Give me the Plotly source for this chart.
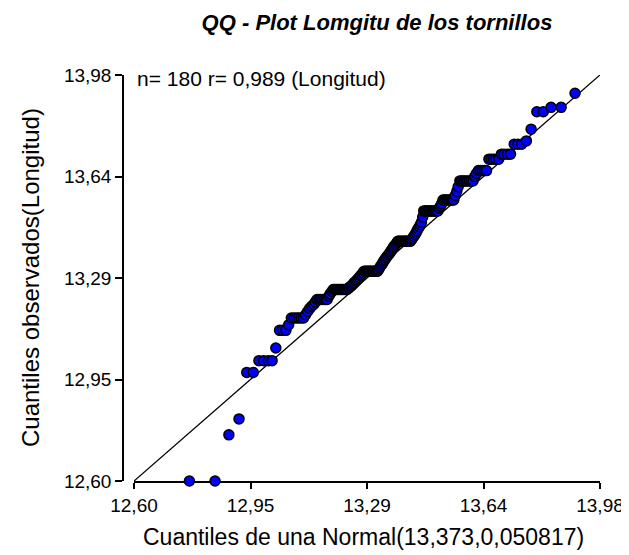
import plotly.graph_objects as go

# Theoretical normal quantiles (Normal(13,373 ; 0,050817))
normal_quantiles = [
    12.764, 12.840, 12.881, 12.911, 12.934, 12.953, 12.970, 12.984, 12.998, 13.009,
    13.020, 13.031, 13.040, 13.050, 13.058, 13.066, 13.074, 13.081, 13.088, 13.095,
    13.102, 13.108, 13.114, 13.120, 13.126, 13.132, 13.137, 13.142, 13.148, 13.153,
    13.158, 13.163, 13.168, 13.172, 13.177, 13.181, 13.186, 13.190, 13.195, 13.199,
    13.203, 13.207, 13.211, 13.215, 13.219, 13.223, 13.227, 13.231, 13.235, 13.238,
    13.242, 13.246, 13.250, 13.253, 13.257, 13.260, 13.264, 13.267, 13.271, 13.274,
    13.278, 13.281, 13.285, 13.288, 13.291, 13.295, 13.298, 13.301, 13.305, 13.308,
    13.311, 13.314, 13.318, 13.321, 13.324, 13.327, 13.330, 13.334, 13.337, 13.340,
    13.343, 13.346, 13.349, 13.353, 13.356, 13.359, 13.362, 13.365, 13.368, 13.371,
    13.375, 13.378, 13.381, 13.384, 13.387, 13.390, 13.393, 13.397, 13.400, 13.403,
    13.406, 13.409, 13.412, 13.416, 13.419, 13.422, 13.425, 13.428, 13.432, 13.435,
    13.438, 13.441, 13.445, 13.448, 13.451, 13.455, 13.458, 13.461, 13.465, 13.468,
    13.472, 13.475, 13.479, 13.482, 13.486, 13.489, 13.493, 13.496, 13.500, 13.504,
    13.508, 13.511, 13.515, 13.519, 13.523, 13.527, 13.531, 13.535, 13.539, 13.543,
    13.547, 13.551, 13.556, 13.560, 13.565, 13.569, 13.574, 13.578, 13.583, 13.588,
    13.593, 13.598, 13.604, 13.609, 13.614, 13.620, 13.626, 13.632, 13.638, 13.644,
    13.651, 13.658, 13.665, 13.672, 13.680, 13.688, 13.696, 13.706, 13.715, 13.726,
    13.737, 13.748, 13.762, 13.776, 13.793, 13.812, 13.835, 13.865, 13.906, 13.982,
]

observed_quantiles = [
    12.600, 12.600, 12.757, 12.811, 12.969, 12.969, 13.009, 13.009, 13.009, 13.009,
    13.052, 13.112, 13.112, 13.112, 13.131, 13.154, 13.154, 13.154, 13.154, 13.154,
    13.154, 13.165, 13.176, 13.186, 13.194, 13.200, 13.208, 13.217, 13.217, 13.217,
    13.217, 13.217, 13.217, 13.217, 13.228, 13.236, 13.244, 13.251, 13.251, 13.251,
    13.251, 13.251, 13.251, 13.251, 13.251, 13.251, 13.251, 13.251, 13.255, 13.258,
    13.262, 13.266, 13.271, 13.275, 13.279, 13.283, 13.287, 13.292, 13.297, 13.302,
    13.307, 13.313, 13.313, 13.313, 13.313, 13.313, 13.313, 13.313, 13.313, 13.313,
    13.313, 13.313, 13.313, 13.313, 13.318, 13.324, 13.330, 13.336, 13.342, 13.348,
    13.353, 13.358, 13.363, 13.368, 13.373, 13.378, 13.383, 13.388, 13.394, 13.399,
    13.404, 13.409, 13.415, 13.415, 13.415, 13.415, 13.415, 13.415, 13.415, 13.415,
    13.415, 13.415, 13.415, 13.415, 13.415, 13.420, 13.425, 13.431, 13.437, 13.443,
    13.450, 13.457, 13.464, 13.471, 13.479, 13.497, 13.518, 13.518, 13.518, 13.518,
    13.518, 13.518, 13.518, 13.518, 13.518, 13.518, 13.518, 13.518, 13.518, 13.528,
    13.535, 13.542, 13.555, 13.555, 13.555, 13.555, 13.555, 13.555, 13.555, 13.555,
    13.555, 13.570, 13.585, 13.600, 13.620, 13.620, 13.620, 13.620, 13.620, 13.620,
    13.620, 13.620, 13.620, 13.635, 13.645, 13.655, 13.655, 13.655, 13.655, 13.655,
    13.694, 13.694, 13.694, 13.694, 13.694, 13.711, 13.711, 13.711, 13.711, 13.745,
    13.745, 13.745, 13.756, 13.796, 13.855, 13.855, 13.870, 13.870, 13.918, 13.957,
]

axis_limits = [12.60, 13.98]
tick_values = [12.60, 12.945, 13.29, 13.635, 13.98]
tick_labels = ["12,60", "12,95", "13,29", "13,64", "13,98"]

# The page body has an 8 px margin, so the figure is drawn from (8, 8).
OFF = 8
W, H = 629 - OFF, 555 - OFF
ml, mt = 123 - OFF, 75 - OFF
mr = W - (600 - OFF)
mb = H - (481 - OFF)
plot_w = W - ml - mr
plot_h = H - mt - mb
x_start = 11 / plot_w


def px_x(p):
    return (p - OFF - ml) / plot_w


def px_y(p):
    return 1 - (p - OFF - mt) / plot_h


font_family = "Arial, Liberation Sans, sans-serif"

fig = go.Figure()
fig.add_trace(go.Scatter(
    x=axis_limits, y=axis_limits, mode="lines",
    line=dict(color="black", width=1.3), hoverinfo="skip", showlegend=False,
))
fig.add_trace(go.Scatter(
    x=normal_quantiles, y=observed_quantiles, mode="markers",
    marker=dict(color="#0000ff", size=10, line=dict(color="black", width=1.5)),
    cliponaxis=False, showlegend=False,
))

fig.update_layout(
    width=W, height=H,
    margin=dict(l=ml, r=mr, t=mt, b=mb, autoexpand=False),
    paper_bgcolor="white", plot_bgcolor="white",
    font=dict(family=font_family, color="black", size=19),
    title=dict(text="<b><i>QQ - Plot Lomgitu de los tornillos</i></b>",
               x=(377 - OFF) / W, xref="container", xanchor="center",
               y=1 - (22 - OFF) / H, yref="container", yanchor="middle",
               font=dict(size=22, family=font_family)),
    xaxis=dict(domain=[x_start, 1], range=axis_limits, showgrid=False, zeroline=False,
               automargin=False,
               showline=True, linecolor="black", linewidth=1.5,
               ticks="outside", ticklen=6, tickwidth=1.5, tickcolor="black",
               tickvals=tick_values, ticktext=tick_labels, layer="below traces",
               tickfont=dict(size=19)),
    yaxis=dict(domain=[0, 1], range=axis_limits, anchor="free", position=0,
               automargin=False, showgrid=False, zeroline=False,
               showline=True, linecolor="black", linewidth=1.5,
               ticks="outside", ticklen=7, tickwidth=1.5, tickcolor="black",
               tickvals=tick_values, ticktext=tick_labels, layer="below traces",
               tickfont=dict(size=19)),
    annotations=[
        dict(text="n= 180 r= 0,989 (Longitud)", xref="paper", yref="paper",
             x=px_x(135), y=px_y(78),
             xanchor="left", yanchor="middle", showarrow=False,
             font=dict(size=21)),
        dict(text="Cuantiles de una Normal(13,373,0,050817)", xref="paper", yref="paper",
             x=px_x(363), y=px_y(537),
             xanchor="center", yanchor="middle", showarrow=False,
             font=dict(size=23)),
        dict(text="Cuantiles observados(Longitud)", xref="paper", yref="paper",
             x=px_x(30), y=px_y(278), textangle=-90,
             xanchor="center", yanchor="middle", showarrow=False,
             font=dict(size=24)),
    ],
)

fig.write_html("out.html")
